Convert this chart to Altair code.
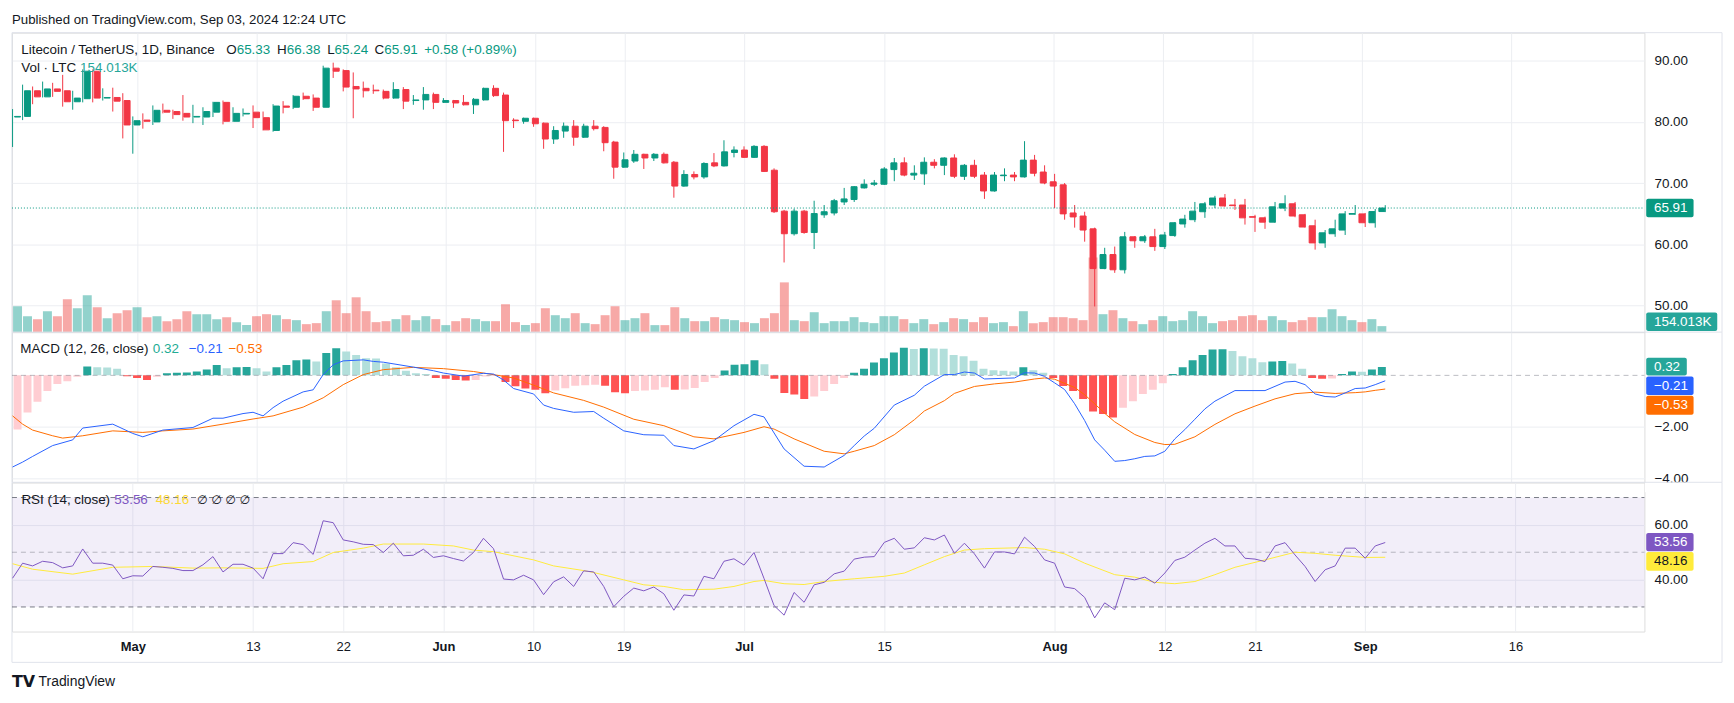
import altair as alt
import pandas as pd
import numpy as np

# ------------------------------------------------------------------ data
START_DATE = "2024-04-19"

OPEN = [80.8, 80.9, 85.1, 84.1, 85.4, 85.1, 83.3, 83.8, 88.3, 83.9,
        84.0, 83.5, 79.5, 80.3, 80.0, 81.9, 81.7, 81.4, 80.8, 80.8,
        81.6, 83.2, 80.1, 81.3, 81.6, 80.7, 78.6, 82.6, 82.4, 84.2,
        83.9, 82.4, 88.8, 88.4, 85.8, 85.5, 85.2, 85.0, 83.9, 85.3,
        83.5, 83.6, 84.5, 83.2, 83.5, 83.2, 82.8, 83.6, 85.5, 84.4,
        80.3, 80.1, 80.6, 79.8, 77.2, 78.5, 79.3, 77.5, 79.3, 79.1,
        76.7, 72.6, 73.6, 74.7, 74.1, 74.7, 73.4, 69.5, 71.4, 71.0,
        73.3, 72.8, 75.0, 75.4, 74.2, 76.0, 72.1, 65.4, 61.7, 65.4,
        61.9, 64.8, 65.1, 66.9, 67.3, 69.2, 69.8, 69.8, 72.2, 73.3,
        71.3, 71.5, 73.4, 72.9, 74.1, 71.1, 72.9, 71.3, 68.7, 71.2,
        71.3, 71.0, 73.75, 71.8, 70.2, 69.7, 65.1, 64.6, 62.5, 56.0,
        58.3, 55.8, 61.2, 60.55, 61.2, 59.6, 61.4, 63.3, 64.0, 65.3,
        66.4, 67.55, 66.4, 66.4, 64.5, 64.3, 63.6, 65.9, 66.6, 64.8,
        63.0, 60.2, 61.7, 62.3, 64.9, 64.95, 63.5, 65.33]
HIGH = [82.1, 86.1, 85.8, 86.6, 86.4, 87.7, 85.1, 88.6, 88.6, 85.5,
        85.6, 84.7, 80.9, 81.4, 82.7, 83.0, 82.0, 84.4, 82.8, 82.4,
        83.3, 83.5, 82.4, 82.2, 82.7, 81.7, 82.9, 83.4, 84.4, 84.8,
        84.5, 89.2, 89.7, 88.6, 88.1, 86.6, 86.1, 85.3, 86.5, 85.7,
        84.4, 85.7, 84.8, 83.9, 83.6, 84.4, 83.9, 85.6, 86.0, 84.8,
        80.6, 80.7, 80.7, 79.9, 79.3, 79.9, 80.3, 79.7, 80.3, 79.3,
        76.9, 75.0, 75.4, 74.8, 74.9, 75.0, 73.6, 72.1, 71.9, 73.4,
        74.9, 77.0, 76.0, 76.0, 76.2, 76.2, 72.4, 65.6, 65.8, 65.6,
        67.1, 66.4, 67.4, 69.2, 69.5, 70.6, 70.5, 72.6, 74.1, 74.2,
        72.9, 74.2, 73.9, 74.2, 74.7, 73.1, 73.8, 71.8, 71.8, 72.4,
        71.8, 76.85, 74.6, 72.9, 71.5, 70.0, 66.4, 65.3, 62.7, 59.4,
        59.6, 62.0, 61.3, 61.5, 62.5, 62.0, 63.6, 64.8, 66.9, 66.9,
        67.9, 68.2, 67.4, 67.4, 64.8, 64.5, 66.9, 68.0, 66.9, 64.95,
        64.0, 62.3, 64.0, 65.4, 66.4, 65.1, 65.75, 66.38]
LOW = [75.9, 80.3, 82.9, 84.0, 84.1, 82.5, 82.0, 83.2, 83.2, 83.5,
       81.7, 77.3, 74.8, 78.9, 79.5, 81.4, 80.5, 80.2, 79.8, 79.5,
       80.8, 79.6, 80.0, 80.9, 79.0, 78.6, 78.4, 81.4, 82.1, 83.6,
       81.8, 82.4, 87.2, 85.0, 80.6, 84.0, 84.6, 83.7, 83.8, 82.1,
       82.8, 82.0, 82.1, 83.1, 82.3, 82.7, 81.3, 83.5, 84.1, 75.1,
       79.0, 79.7, 79.2, 75.6, 76.4, 77.4, 76.1, 77.4, 78.6, 75.2,
       70.7, 72.5, 73.3, 72.3, 73.6, 73.2, 67.6, 69.4, 70.6, 70.7,
       72.6, 72.7, 74.2, 74.1, 74.1, 71.8, 65.1, 57.0, 61.4, 61.7,
       59.2, 64.3, 64.7, 66.4, 66.9, 69.1, 69.5, 69.7, 70.3, 71.1,
       70.5, 69.7, 72.4, 71.3, 70.8, 70.5, 70.8, 67.4, 68.6, 70.3,
       70.3, 70.9, 71.1, 69.8, 65.9, 64.0, 62.7, 60.4, 49.8, 55.9,
       55.3, 55.2, 59.4, 60.2, 58.9, 59.2, 61.2, 62.7, 63.6, 64.3,
       65.9, 66.1, 65.6, 63.2, 62.0, 62.5, 63.5, 65.4, 64.4, 62.7,
       59.1, 59.4, 61.2, 61.5, 64.8, 62.8, 62.7, 65.24]
CLOSE = [80.9, 85.1, 84.1, 85.4, 85.0, 83.3, 83.9, 88.3, 83.9, 84.0,
         83.4, 79.5, 80.2, 80.1, 81.9, 81.6, 81.2, 80.8, 80.9, 81.7,
         83.2, 80.1, 81.4, 81.4, 80.7, 78.7, 82.6, 82.4, 84.2, 83.8,
         82.4, 88.8, 88.3, 85.7, 85.4, 85.1, 85.1, 83.9, 85.3, 83.4,
         83.6, 84.5, 83.2, 83.5, 83.1, 82.8, 83.7, 85.5, 84.3, 80.2,
         80.2, 80.6, 79.7, 77.2, 78.6, 79.3, 77.5, 79.3, 78.9, 76.6,
         72.6, 73.8, 74.7, 74.1, 74.7, 73.3, 69.5, 71.4, 71.0, 73.2,
         72.8, 75.1, 75.4, 74.2, 76.0, 71.9, 65.3, 61.7, 65.4, 61.9,
         65.0, 65.3, 67.1, 67.4, 69.4, 69.8, 70.0, 72.3, 73.3, 71.3,
         71.6, 73.4, 72.9, 74.1, 71.1, 72.9, 71.1, 68.7, 71.3, 71.3,
         71.0, 73.75, 71.6, 70.0, 69.5, 64.95, 64.45, 62.3, 56.0, 58.3,
         55.8, 61.2, 60.55, 61.2, 59.6, 61.5, 63.5, 64.1, 65.4, 66.6,
         67.55, 66.25, 66.3, 64.3, 64.4, 63.6, 66.1, 66.6, 64.6, 62.8,
         60.2, 61.85, 62.5, 64.95, 65.0, 63.5, 65.33, 65.91]
VOLUME_K = [667, 411, 334, 539, 411, 847, 616, 950, 642, 359,
            488, 565, 642, 385, 411, 282, 334, 539, 462, 462,
            334, 385, 257, 180, 411, 462, 436, 334, 308, 205,
            231, 539, 821, 488, 898,
            539, 257, 282, 334, 436, 308, 411, 334, 180, 282,
            359, 334, 282, 282, 719, 257, 180, 231, 616, 436,
            359, 488, 231, 205, 436, 667, 308, 359, 488, 180,
            180, 642, 359, 282, 282,
            385, 334, 308, 257, 231, 359, 488, 1283, 308, 282,
            513, 231, 282, 282, 385, 257, 231, 411, 411, 334,
            231, 334, 205, 257, 359, 334, 257, 385, 231, 257,
            154, 539, 231, 257,
            385, 385, 359, 308, 1925, 462, 565, 359, 282, 205,
            308, 411, 282, 308, 539, 411, 231, 282, 308, 411,
            436, 308, 411, 308, 257, 308, 385, 385, 590, 411,
            308, 257, 334, 154.013]

MACD_HIST = [-2.10, -1.44, -1.02, -0.61, -0.33, -0.23, -0.05, 0.34, 0.31, 0.30,
             0.26, -0.03, -0.10, -0.18, -0.05, 0.08, 0.10, 0.11, 0.15, 0.23,
             0.40, 0.28, 0.31, 0.32, 0.28, 0.15, 0.31, 0.40, 0.59, 0.61,
             0.54, 0.87, 1.05, 0.92, 0.79, 0.66, 0.65, 0.46, 0.31, 0.18,
             0.08, 0.05, -0.10, -0.13, -0.18, -0.20, -0.18, -0.04, -0.02, -0.26,
             -0.42, -0.51, -0.56, -0.69, -0.59, -0.50, -0.40, -0.38, -0.36, -0.40,
             -0.65, -0.69, -0.61, -0.59, -0.56, -0.46, -0.56, -0.55, -0.49, -0.26,
             -0.10, 0.19, 0.41, 0.43, 0.59, 0.43, -0.13, -0.68, -0.74, -0.92,
             -0.82, -0.61, -0.33, -0.10, 0.10, 0.26, 0.50, 0.66, 0.89, 1.07,
             1.02, 1.05, 1.04, 1.03, 0.79, 0.74, 0.57, 0.26, 0.20, 0.18,
             0.15, 0.31, 0.20, 0.10, -0.10, -0.41, -0.61, -0.92, -1.40, -1.50,
             -1.63, -1.25, -1.00, -0.72, -0.56, -0.31, 0.05, 0.31, 0.59, 0.79,
             1.00, 1.01, 0.94, 0.74, 0.66, 0.51, 0.54, 0.56, 0.46, 0.26,
             -0.10, -0.13, -0.12, 0.05, 0.15, 0.14, 0.23, 0.32]

MACD_DAY = [0, 1, 2, 4, 6, 7, 10, 12, 13, 15, 18, 20, 21, 23, 24, 25, 26, 27, 29, 30,
            31, 32, 33, 35, 36, 37, 40, 42, 43, 45, 47, 48, 49, 50, 52, 53, 54, 56, 58, 59,
            61, 63, 65, 66, 68, 70, 72, 74, 75, 77, 79, 81, 83, 84, 85, 86, 88, 90, 91, 93,
            94, 95, 96, 97, 100, 101, 102, 103, 104, 105, 106, 107, 108, 109, 110, 111, 112, 113, 114, 115,
            116, 117, 118, 119, 120, 122, 125, 127, 128, 129, 130, 131, 132, 133, 134, 135, 136, 137]
MACD_VAL = [-3.55, -3.36, -3.14, -2.72, -2.50, -2.04, -1.89, -2.25, -2.38, -2.12,
            -2.02, -1.66, -1.66, -1.48, -1.43, -1.57, -1.25, -1.00, -0.64, -0.56,
            0.03, 0.41, 0.56, 0.60, 0.54, 0.51, 0.32, 0.18, 0.09, -0.03,
            0.08, 0.05, -0.18, -0.51, -0.72, -1.15, -1.28, -1.43, -1.40, -1.66,
            -2.15, -2.30, -2.32, -2.72, -2.85, -2.53, -1.95, -1.51, -1.61, -2.85,
            -3.52, -3.55, -3.10, -2.72, -2.35, -2.05, -1.15, -0.77, -0.42, 0.03,
            0.03, 0.13, 0.09, -0.14, -0.10, 0.10, 0.09, -0.04, -0.29, -0.55,
            -1.10, -1.75, -2.50, -2.90, -3.33, -3.30, -3.23, -3.14, -3.12, -2.94,
            -2.46, -2.10, -1.70, -1.30, -1.00, -0.59, -0.59, -0.26, -0.23, -0.36,
            -0.72, -0.82, -0.84, -0.68, -0.51, -0.49, -0.36, -0.21]

SIGNAL_DAY = [0, 1, 2, 4, 5, 7, 10, 13, 15, 18, 21, 24, 26, 29, 31, 33, 35, 37, 40, 43,
              46, 47, 50, 52, 54, 57, 59, 62, 65, 68, 70, 73, 75, 76, 78, 81, 83, 84, 86, 88,
              90, 91, 93, 94, 96, 98, 100, 102, 103, 104, 106, 107, 108, 109, 110, 112, 114, 115, 116, 118,
              120, 122, 124, 126, 128, 130, 132, 134, 135, 136, 137]
SIGNAL_VAL = [-1.57, -1.89, -2.12, -2.34, -2.43, -2.34, -2.15, -2.21, -2.15, -2.08,
              -1.89, -1.69, -1.57, -1.23, -0.87, -0.36, 0.03, 0.22, 0.31, 0.26,
              0.15, 0.09, -0.10, -0.38, -0.68, -0.97, -1.23, -1.70, -1.95, -2.38,
              -2.46, -2.21, -1.99, -2.08, -2.46, -2.94, -3.04, -2.94, -2.72, -2.30,
              -1.72, -1.38, -0.98, -0.70, -0.43, -0.33, -0.26, -0.14, -0.10, -0.15,
              -0.47, -0.75, -1.10, -1.47, -1.80, -2.29, -2.60, -2.68, -2.67, -2.38,
              -1.90, -1.49, -1.19, -0.91, -0.71, -0.65, -0.70, -0.67, -0.64, -0.58,
              -0.53]

RSI = [40.5, 46.0, 45.0, 46.7, 46.2, 44.3, 45.0, 51.2, 46.0, 46.0,
       45.3, 40.3, 41.4, 41.3, 44.8, 44.5, 44.1, 43.3, 43.3, 45.4,
       48.4, 42.8, 45.6, 45.6, 44.2, 40.3, 49.5, 49.5, 53.5, 52.8,
       49.2, 61.5, 60.8, 54.5, 53.8, 52.9, 52.8, 49.9, 53.3, 48.7,
       48.9, 51.1, 48.1, 48.7, 47.7, 46.8, 49.9, 55.1, 51.3, 40.2,
       39.9, 41.6, 39.9, 34.5, 39.2, 41.0, 37.5, 43.2, 42.8, 37.5,
       30.1, 33.9, 36.9, 35.9, 37.3, 34.8, 28.8, 34.4, 34.0, 41.2,
       40.3, 46.7, 47.6, 45.3, 49.9, 40.4, 30.5, 27.0, 35.3, 31.7,
       38.1, 39.0, 42.1, 43.1, 47.5, 48.2, 48.4, 53.6, 55.1, 51.1,
       51.6, 55.3, 54.5, 56.3, 49.6, 53.3, 49.4, 44.2, 50.1, 50.1,
       49.4, 55.5, 52.1, 47.2, 46.0, 37.3, 36.7, 33.5, 26.0, 31.5,
       29.0, 40.5, 39.9, 40.9, 38.7, 42.4, 47.0, 48.2, 50.8, 53.3,
       55.1, 52.3, 52.3, 47.8, 47.5, 46.6, 52.3, 53.5, 49.0, 44.8,
       39.3, 43.6, 45.0, 51.5, 51.5, 47.8, 52.3, 53.56]

RSI_MA_DAY = [0, 2, 6, 10, 14, 18, 21, 25, 27, 30, 32, 35, 37, 41, 44, 46, 48, 52, 54, 57,
              58, 61, 63, 65, 67, 70, 72, 74, 75, 77, 79, 81, 84, 87, 89, 91, 93, 95, 97, 101,
              103, 105, 107, 110, 112, 114, 116, 118, 120, 122, 125, 128, 130, 132, 135, 137]
RSI_MA_VAL = [45.8, 43.8, 42.0, 44.5, 44.8, 44.2, 44.3, 44.1, 45.8, 46.6,
              49.9, 51.5, 53.0, 53.0, 52.3, 50.8, 50.2, 47.2, 45.0, 43.3,
              42.6, 39.9, 38.1, 37.5, 36.3, 36.5, 37.5, 39.3, 39.7, 38.5,
              38.2, 39.3, 40.3, 41.2, 42.4, 45.4, 48.4, 50.8, 51.3, 51.7,
              51.1, 49.4, 46.0, 41.8, 40.9, 39.0, 38.5, 39.3, 41.8, 44.5,
              47.2, 50.0, 49.6, 48.9, 48.1, 48.16]

TICK_DATES = ["2024-05-01", "2024-05-13", "2024-05-22", "2024-06-01", "2024-06-10",
              "2024-06-19", "2024-07-01", "2024-07-15", "2024-08-01", "2024-08-12",
              "2024-08-21", "2024-09-01", "2024-09-16"]
TICK_LABELS = ["May", "13", "22", "Jun", "10", "19", "Jul", "15", "Aug", "12", "21", "Sep", "16"]
PRICE_TICKS = [50, 60, 70, 80, 90]
MACD_TICKS = [-4, -2]
RSI_TICKS = [40, 60]
RSI_LEVELS = [70, 30]
RSI_MID = [50]

HEADER = "Published on TradingView.com, Sep 03, 2024 12:24 UTC"
SYMBOL = "Litecoin / TetherUS, 1D, Binance"
OHLC_LABELS = ["O", "H", "L", "C"]
OHLC_VALUES = ["65.33", "66.38", "65.24", "65.91"]
CHANGE = "+0.58 (+0.89%)"
VOL_TITLE = "Vol \u00b7 LTC"
VOL_LAST = "154.013K"
MACD_TITLE = "MACD (12, 26, close)"
MACD_LAST = ["0.32", "\u22120.21", "\u22120.53"]
RSI_TITLE = "RSI (14, close)"
RSI_LAST = ["53.56", "48.16"]
RSI_EXTRA = "\u2205 \u2205 \u2205 \u2205"

# ------------------------------------------------------------------ style / layout
FONT = "Liberation Sans"
DARK = "#131722"
UP, DOWN = "#089981", "#F23645"
VUP, VDOWN = "#26a69a", "#ef5350"
GRID = "#eceef2"
FRAME = "#e0e3eb"
W, H1, H2, H3 = 1641, 301, 151, 150
RIGHT = 1719
PX_PER_DAY = 10.072
X0 = -0.6 / PX_PER_DAY
X1 = X0 + W / PX_PER_DAY
PRICE_DOMAIN = [45.604, 94.607]
VOL_DOMAIN = [0, 7726]
MACD_DOMAIN = [-4.143, 1.676]
RSI_DOMAIN = [21.02, 75.56]

dates = pd.date_range(START_DATE, periods=len(CLOSE), freq="D")
day = (dates - dates[0]).days
tick_days = [int((pd.Timestamp(d) - dates[0]).days) for d in TICK_DATES]

candles = pd.DataFrame({"day": day, "open": OPEN, "high": HIGH, "low": LOW,
                        "close": CLOSE, "vol": VOLUME_K})
up = candles["close"] >= candles["open"]
candles["col"] = np.where(up, UP, DOWN)
candles["vcol"] = np.where(up, VUP, VDOWN)

hist = pd.DataFrame({"day": day, "hist": MACD_HIST})
prev = hist["hist"].shift(1).fillna(-99)
hist["hc"] = np.where(hist["hist"] >= 0,
                      np.where(hist["hist"] > prev, "#26a69a", "#b2dfdb"),
                      np.where(hist["hist"] < prev, "#ff5252", "#ffcdd2"))
macd = pd.DataFrame({"day": MACD_DAY, "val": MACD_VAL})
signal = pd.DataFrame({"day": SIGNAL_DAY, "val": SIGNAL_VAL})
rsi = pd.DataFrame({"day": day, "rsi": RSI})
rsima = pd.DataFrame({"day": RSI_MA_DAY, "val": RSI_MA_VAL})

ONE = pd.DataFrame({"k": [0]})
XS = alt.Scale(domain=[X0, X1], nice=False, zero=False)
PS = alt.Scale(domain=PRICE_DOMAIN, nice=False, zero=False)
VS = alt.Scale(domain=VOL_DOMAIN, nice=False, zero=False)
MS = alt.Scale(domain=MACD_DOMAIN, nice=False, zero=False)
RS = alt.Scale(domain=RSI_DOMAIN, nice=False, zero=False)

GRID_AX = alt.Axis(values=tick_days, grid=True, gridColor=GRID, labels=False, ticks=False,
                   tickSize=0, domain=False, title="")
days_js = "[" + ",".join(str(d) for d in tick_days) + "]"
labels_js = "[" + ",".join("'" + s + "'" for s in TICK_LABELS) + "]"
bold_js = "[" + ",".join(str(d) for d, s in zip(tick_days, TICK_LABELS) if s.isalpha()) + "]"
TIME_AX = alt.Axis(values=tick_days, grid=True, gridColor=GRID, ticks=False, tickSize=0,
                   domain=False, title="", labelPadding=9, labelFontSize=13,
                   labelColor=DARK, labelFont=FONT, labelOverlap=False, labelFlush=False,
                   labelBound=False,
                   labelExpr=labels_js + "[indexof(" + days_js + ", datum.value)]",
                   labelFontWeight={"condition": {"test": "indexof(" + bold_js + ", datum.value) >= 0",
                                                  "value": "bold"}, "value": "normal"})


def yaxis(values, fmt_expr=None):
    kw = dict(orient="right", values=values, grid=True, gridColor=GRID, ticks=False, tickSize=0,
              domain=False, title="", labelPadding=9.6, labelFontSize=13.5, labelColor=DARK,
              labelFont=FONT, labelOverlap=False, labelFlush=False, labelBound=False, format=".2f")
    if fmt_expr:
        kw["labelExpr"] = fmt_expr
    return alt.Axis(**kw)


def txt(x, y, s, color=DARK, size=13.5, weight="normal", align="left", font=FONT):
    return alt.Chart(ONE).mark_text(align=align, baseline="middle", fontSize=size,
                                    fontWeight=weight, color=color, font=font).encode(
        x=alt.value(x), y=alt.value(y), text=alt.value(s))


def box(x1, x2, y1, y2, fill, radius=2):
    return alt.Chart(ONE).mark_rect(color=fill, cornerRadius=radius).encode(
        x=alt.value(x1), x2=alt.value(x2), y=alt.value(y1), y2=alt.value(y2))


def hline(y, x1=0, x2=RIGHT, color=FRAME):
    return alt.Chart(ONE).mark_rule(color=color, strokeWidth=1).encode(
        x=alt.value(x1), x2=alt.value(x2), y=alt.value(y))


def vline(x, y1, y2, color=FRAME):
    return alt.Chart(ONE).mark_rule(color=color, strokeWidth=1).encode(
        x=alt.value(x), y=alt.value(y1), y2=alt.value(y2))


# ------------------------------------------------------------------ price pane
anchor = alt.Chart(ONE).mark_rect(color="white").encode(
    x=alt.value(-3), x2=alt.value(1722), y=alt.value(-22), y2=alt.value(-21))

vol = alt.Chart(candles).mark_bar(orient="vertical", size=9, opacity=0.5, clip=True).encode(
    x=alt.X("day:Q", scale=XS, axis=GRID_AX),
    y=alt.Y("vol:Q", scale=VS, axis=None),
    color=alt.Color("vcol:N", scale=None))

wick = alt.Chart(candles).mark_rule(strokeWidth=1, clip=True).encode(
    x=alt.X("day:Q", scale=XS, axis=None),
    y=alt.Y("low:Q", scale=PS, axis=yaxis(PRICE_TICKS)),
    y2="high",
    color=alt.Color("col:N", scale=None))

body = alt.Chart(candles).mark_bar(orient="vertical", size=6, strokeWidth=1, clip=True).encode(
    x=alt.X("day:Q", scale=XS, axis=None),
    y=alt.Y("open:Q", scale=PS, axis=None),
    y2="close",
    color=alt.Color("col:N", scale=None),
    stroke=alt.Stroke("col:N", scale=None))

last = pd.DataFrame({"v": [CLOSE[-1]]})
last_line = alt.Chart(last).mark_rule(strokeDash=[1, 2], color=UP, strokeWidth=1).encode(
    x=alt.value(0), x2=alt.value(W), y=alt.Y("v:Q", scale=PS, axis=None))
last_box = alt.Chart(last).mark_rect(color=UP, cornerRadius=2, yOffset=-9.3, y2Offset=9.3).encode(
    x=alt.value(1642.8), x2=alt.value(1690.4), y=alt.Y("v:Q", scale=PS, axis=None), y2="v")
last_txt = alt.Chart(last).mark_text(align="left", baseline="middle", fontSize=13.5, font=FONT,
                                     color="white").encode(
    x=alt.value(1650.6), y=alt.Y("v:Q", scale=PS, axis=None), text=alt.value(OHLC_VALUES[3]))

price_layers = [anchor, hline(0), vline(0, 0, H1), vline(RIGHT, 0, H1),
                vol, wick, body, last_line, last_box, last_txt,
                box(1642.8, 1714.2, 281.4, 300, VUP), txt(1650.6, 290.7, VOL_LAST, "white"),
                txt(0, -12.7, HEADER, size=13.3),
                txt(9.3, 17.3, SYMBOL)]
ohlc_x = [215.4, 266.5, 316.8, 364.5]
ohlc_w = [10.5, 9.75, 7.5, 9.75]
for lab, val, xx, ww in zip(OHLC_LABELS, OHLC_VALUES, ohlc_x, ohlc_w):
    price_layers.append(txt(xx, 17.3, lab))
    price_layers.append(txt(xx + ww, 17.3, val, UP))
price_layers += [txt(414.4, 17.3, CHANGE, UP), txt(9.3, 36, VOL_TITLE), txt(68.5, 36, VOL_LAST, VUP)]

price_pane = alt.layer(*price_layers).resolve_scale(
    x="independent", y="independent").properties(width=W, height=H1)

# ------------------------------------------------------------------ MACD pane
hbars = alt.Chart(hist).mark_bar(orient="vertical", size=8, clip=True).encode(
    x=alt.X("day:Q", scale=XS, axis=GRID_AX),
    y=alt.Y("hist:Q", scale=MS,
            axis=yaxis(MACD_TICKS, "replace(format(datum.value, '.2f'), '-', '\u2212')")),
    color=alt.Color("hc:N", scale=None))
zero = alt.Chart(pd.DataFrame({"z": [0]})).mark_rule(strokeDash=[5, 4], color="#787b86",
                                                     opacity=0.5).encode(
    x=alt.value(0), x2=alt.value(W), y=alt.Y("z:Q", scale=MS, axis=None))
macd_line = alt.Chart(macd).mark_line(color="#2962FF", strokeWidth=1).encode(
    x=alt.X("day:Q", scale=XS, axis=None), y=alt.Y("val:Q", scale=MS, axis=None))
sig_line = alt.Chart(signal).mark_line(color="#FF6D00", strokeWidth=1).encode(
    x=alt.X("day:Q", scale=XS, axis=None), y=alt.Y("val:Q", scale=MS, axis=None))

macd_pane = alt.layer(
    hline(0), vline(0, 0, H2), vline(RIGHT, 0, H2),
    hbars, zero, sig_line, macd_line,
    txt(8.4, 17.3, MACD_TITLE), txt(141.6, 17.3, MACD_LAST[0], "#22ab94"),
    txt(177.7, 17.3, MACD_LAST[1], "#2962FF"), txt(217.6, 17.3, MACD_LAST[2], "#FF6D00"),
    box(1642.8, 1683.6, 25.8, 43.6, "#26a69a"), txt(1650.6, 34.7, MACD_LAST[0], "white"),
    box(1642.8, 1690.4, 44.7, 63.3, "#2962FF"), txt(1650.6, 54, MACD_LAST[1], "white"),
    box(1642.8, 1690.4, 64, 83, "#FF6D00"), txt(1650.6, 73.5, MACD_LAST[2], "white"),
).resolve_scale(x="independent", y="independent").properties(width=W, height=H2)

# ------------------------------------------------------------------ RSI pane
band = alt.Chart(pd.DataFrame({"a": [RSI_LEVELS[0]], "b": [RSI_LEVELS[1]]})).mark_rect(
    color="#7E57C2", opacity=0.1).encode(
    x=alt.value(0), x2=alt.value(W), y=alt.Y("a:Q", scale=RS, axis=None), y2="b")
lv = alt.Chart(pd.DataFrame({"lvl": RSI_LEVELS})).mark_rule(strokeDash=[5, 4], color="#787b86").encode(
    x=alt.value(0), x2=alt.value(W), y=alt.Y("lvl:Q", scale=RS, axis=None))
mid = alt.Chart(pd.DataFrame({"lvl": RSI_MID})).mark_rule(strokeDash=[5, 4], color="#787b86",
                                                          opacity=0.5).encode(
    x=alt.value(0), x2=alt.value(W), y=alt.Y("lvl:Q", scale=RS, axis=None))
rsi_line = alt.Chart(rsi).mark_line(color="#7E57C2", strokeWidth=1).encode(
    x=alt.X("day:Q", scale=XS, axis=TIME_AX), y=alt.Y("rsi:Q", scale=RS, axis=yaxis(RSI_TICKS)))
ma_line = alt.Chart(rsima).mark_line(color="#FFEB3B", strokeWidth=1).encode(
    x=alt.X("day:Q", scale=XS, axis=None), y=alt.Y("val:Q", scale=RS, axis=None))

rsi_pane = alt.layer(
    box(W + 0.5, RIGHT - 0.5, 0.5, 10, "white", 0),
    hline(0), vline(0, 0, 181), vline(RIGHT, 0, 181), hline(181),
    band, lv, mid, ma_line, rsi_line,
    txt(9.5, 18, RSI_TITLE), txt(102.8, 18, RSI_LAST[0], "#7E57C2"),
    txt(144.4, 18, RSI_LAST[1], "#FDD835"), txt(186, 18, RSI_EXTRA, font="DejaVu Sans", size=12),
    box(1642.8, 1690.4, 50.9, 69.4, "#7E57C2"), txt(1650.6, 60.2, RSI_LAST[0], "white"),
    box(1642.8, 1690.4, 70, 89, "#FFEB3B"), txt(1650.6, 79.5, RSI_LAST[1], DARK),
    txt(0, 201, "TV", size=16, weight="bold", font="DejaVu Sans"),
    txt(26.7, 201, "TradingView", size=14),
).resolve_scale(x="independent", y="independent").properties(width=W, height=H3)

chart = alt.vconcat(price_pane, macd_pane, rsi_pane, spacing=0, bounds="flush").resolve_scale(
    x="independent", y="independent").properties(padding=0).configure_view(
    stroke="transparent", strokeWidth=0).configure(font=FONT)

chart.save("out.html", embed_options={"renderer": "svg", "actions": False})
